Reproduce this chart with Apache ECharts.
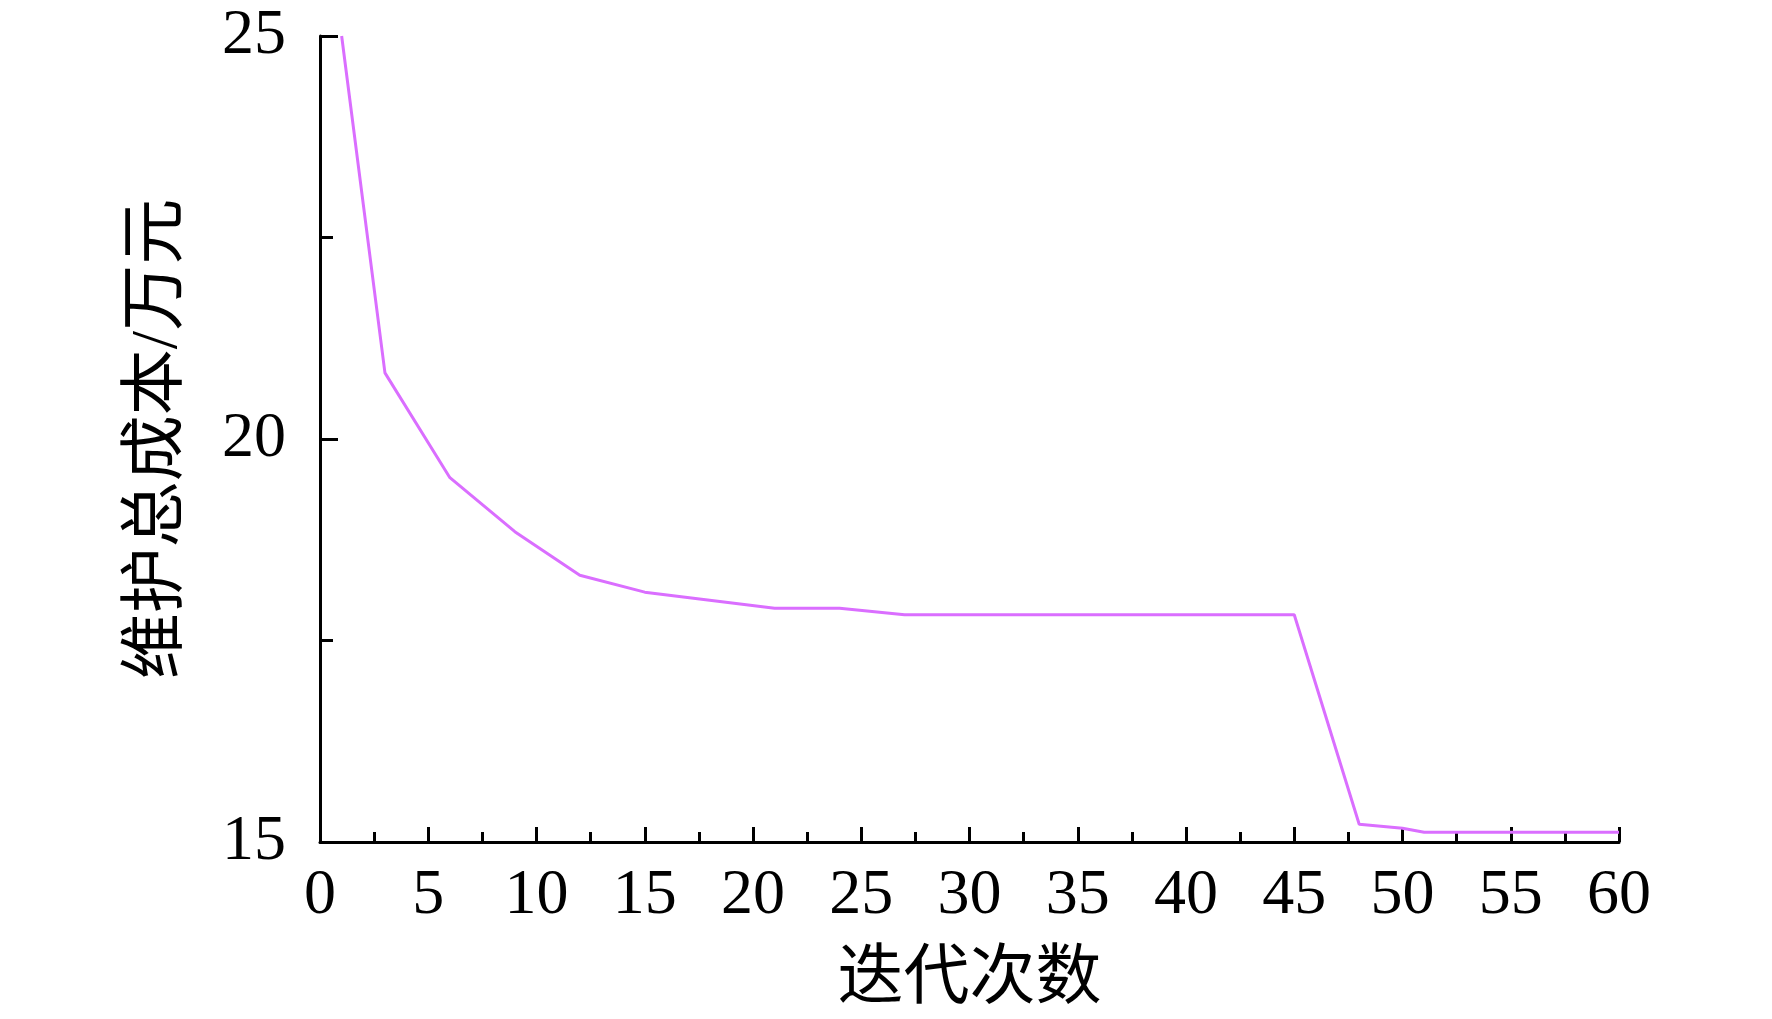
<!DOCTYPE html>
<html>
<head>
<meta charset="utf-8">
<script src="https://cdn.jsdelivr.net/npm/echarts@6/dist/echarts.min.js"></script>
<style>
html,body{margin:0;padding:0;background:#fff;}
#chart{width:1772px;height:1019px;}
</style>
</head>
<body>
<div id="chart"></div>
<script>
// Data
const iterations = [1, 3, 6, 9, 12, 15, 18, 21, 24, 27, 45, 48, 50, 51, 60];
const totalCost = [25.0, 20.82, 19.52, 18.85, 18.31, 18.10, 18.00, 17.90, 17.90, 17.82, 17.82, 15.22, 15.17, 15.12, 15.12];
const xTicks = [0, 5, 10, 15, 20, 25, 30, 35, 40, 45, 50, 55, 60];
const yTicks = [15, 20, 25];
const xName = '迭代次数';
const yName = '维护总成本/万元';

const serif = '"Liberation Serif", "Noto Sans CJK SC", serif';
const chart = echarts.init(document.getElementById('chart'), null, {renderer: 'canvas'});
chart.setOption({
  backgroundColor: '#ffffff',
  animation: false,
  grid: {left: 320, right: 153, top: 36, bottom: 177, containLabel: false},
  xAxis: {
    type: 'value',
    min: xTicks[0],
    max: xTicks[xTicks.length - 1],
    interval: 5,
    name: xName,
    nameLocation: 'middle',
    nameGap: 106,
    nameTextStyle: {fontFamily: serif, fontSize: 66, color: '#000'},
    axisLine: {show: true, onZero: false, lineStyle: {color: '#000', width: 3}},
    axisTick: {show: true, inside: true, length: 15, lineStyle: {color: '#000', width: 3}},
    minorTick: {show: true, splitNumber: 2, length: 10, lineStyle: {color: '#000', width: 3}},
    axisLabel: {fontFamily: serif, fontSize: 64, color: '#000', margin: 22},
    splitLine: {show: false}
  },
  yAxis: {
    type: 'value',
    min: 15,
    max: 25,
    interval: 5,
    name: yName,
    nameLocation: 'middle',
    nameGap: 128,
    nameRotate: 90,
    nameTextStyle: {fontFamily: serif, fontSize: 66, color: '#000'},
    axisLine: {show: true, onZero: false, lineStyle: {color: '#000', width: 3}},
    axisTick: {show: true, inside: true, length: 18, lineStyle: {color: '#000', width: 3}},
    minorTick: {show: true, splitNumber: 2, length: 13, lineStyle: {color: '#000', width: 3}},
    axisLabel: {fontFamily: serif, fontSize: 64, color: '#000', margin: 34,
      formatter: v => yTicks.includes(v) ? String(v) : ''},
    splitLine: {show: false}
  },
  series: [{
    type: 'line',
    data: iterations.map((x, i) => [x, totalCost[i]]),
    showSymbol: false,
    symbol: 'none',
    smooth: false,
    clip: true,
    lineStyle: {color: '#DA6EFF', width: 3},
    itemStyle: {color: '#DA6EFF'}
  }]
});
</script>
</body>
</html>
